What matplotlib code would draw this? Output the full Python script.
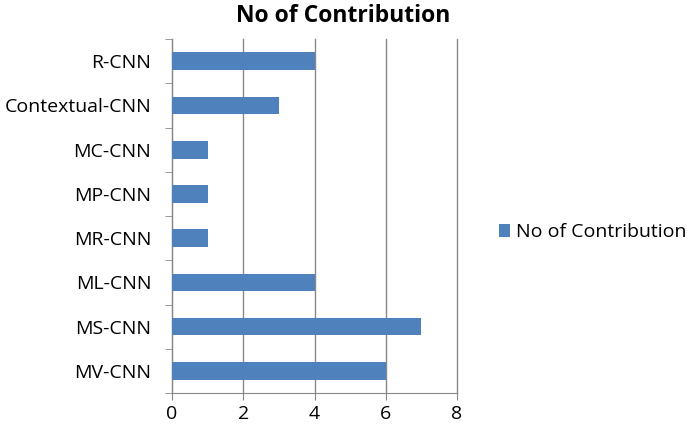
import matplotlib.pyplot as plt
import numpy as np

plt.rcParams['font.family'] = ['Open Sans', 'DejaVu Sans']

# categories listed bottom to top
models = ['MV-CNN', 'MS-CNN', 'ML-CNN', 'MR-CNN', 'MP-CNN', 'MC-CNN', 'Contextual-CNN', 'R-CNN']
contrib = [6, 7, 4, 1, 1, 1, 3, 4]

fig = plt.figure(figsize=(6.87, 4.34), dpi=100)
ax = fig.add_axes([0.2504, 0.0945, 0.4148, 0.8155])

y = np.arange(len(models))
ax.barh(y, contrib, height=0.4, color='#4F81BD', label='No of Contribution', zorder=3)

ax.set_xlim(0, 8)
ax.set_ylim(-0.5, len(models) - 0.5)
ax.set_xticks([0, 2, 4, 6, 8])
ax.set_yticks(y)
ax.set_yticklabels(models)
ax.set_yticks(np.arange(-0.5, len(models)), minor=True)
ax.tick_params(axis='y', which='major', length=0, pad=15, labelsize=14)
ax.tick_params(axis='y', which='minor', length=5, color='#888888', direction='out')
ax.tick_params(axis='x', length=5, color='#888888', labelsize=14, pad=4)

ax.grid(axis='x', color='#888888', linewidth=1, zorder=0)
for gl in ax.get_xgridlines():
    gl.set_clip_on(False)
for s in ['top', 'right']:
    ax.spines[s].set_visible(False)
for s in ['left', 'bottom']:
    ax.spines[s].set_color('#888888')

fig.text(0.5, 0.963, 'No of Contribution', ha='center', va='center',
         fontsize=16.5, fontweight='bold')
fig.legend(loc='center left', bbox_to_anchor=(0.726, 0.465), frameon=False,
           fontsize=14, handlelength=0.6, handleheight=0.6, handletextpad=0.3,
           borderpad=0, borderaxespad=0)

fig.savefig('out.png', dpi=100)
